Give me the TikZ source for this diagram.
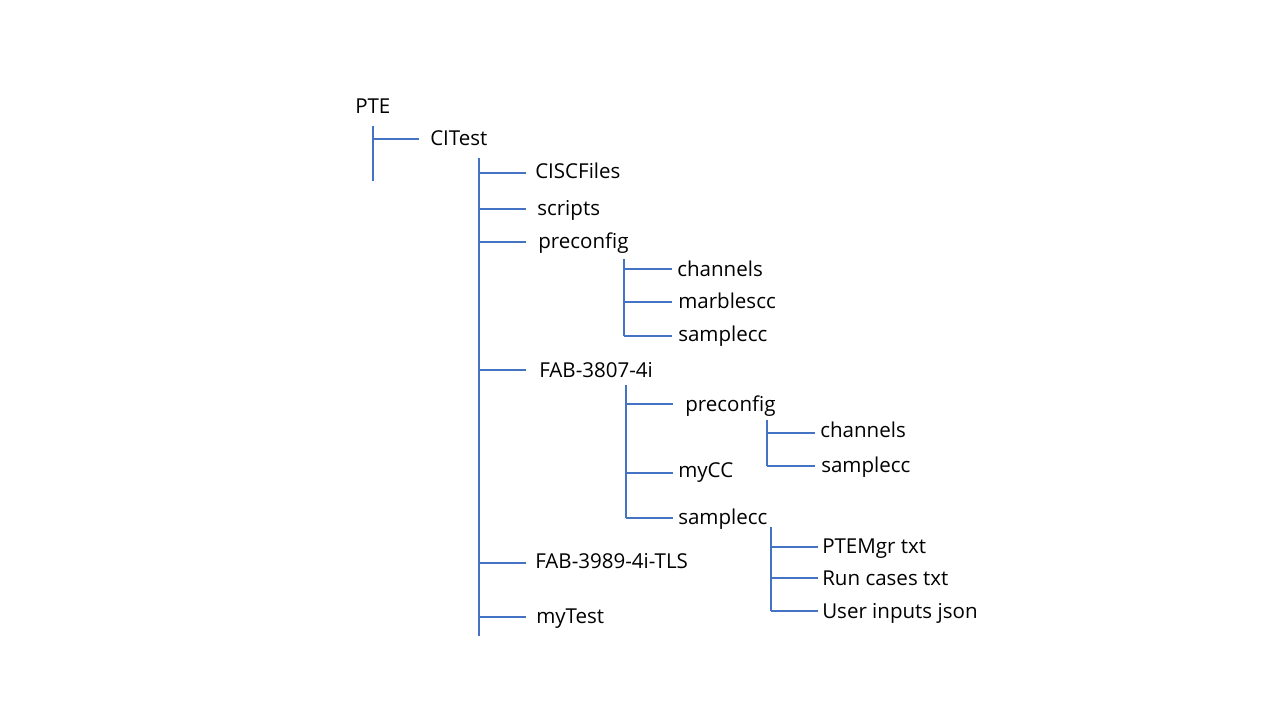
\documentclass[tikz,border=0pt]{standalone}
\usepackage{fontspec}
\setmainfont{Open Sans}
\usepackage{tikz}
\definecolor{treeblue}{HTML}{4472C4}

\begin{document}
\begin{tikzpicture}[
    x=0.75pt, y=-0.75pt,
    entry/.style={anchor=base west, inner sep=0pt, font=\fontsize{15.4}{18}\selectfont},
    branch/.style={draw=treeblue, line width=0.8pt},
]
    \useasboundingbox (0,0) rectangle (1280,720);

    % Root and first level
    \node[entry] (pte) at (355,114) {PTE};
    \node[entry] (citest) at (430,146) {CITest};
    \draw[branch] (373,126) coordinate (ptetop) -- (373,181) coordinate (ptebot);
    \draw[branch] (ptetop |- 0,139) -- (419,139);

    % Children of CITest
    \node[entry] (ciscfiles) at (535,179) {CISCFiles};
    \node[entry] (scripts) at (537,216) {scripts};
    \node[entry] (preconfa) at (538,248) {preconfig};
    \node[entry] (fabone) at (539,377) {FAB-3807-4i};
    \node[entry] (fabtwo) at (535,568) {FAB-3989-4i-TLS};
    \node[entry] (mytest) at (536,623) {myTest};
    \draw[branch] (479,158) coordinate (citop) -- (479,636) coordinate (cibot);
    \foreach \y in {173, 209, 242, 370, 563, 617}
        \draw[branch] (citop |- 0,\y) -- ++(47,0);

    % preconfig (first)
    \node[entry] (chana) at (677,276) {channels};
    \node[entry] (marble) at (678,308) {marblescc};
    \node[entry] (samplea) at (678,341) {samplecc};
    \draw[branch] (624,259) coordinate (pcatop) -- (624,336) coordinate (pcabot);
    \foreach \y in {269, 302, 336}
        \draw[branch] (pcatop |- 0,\y) -- ++(48,0);

    % FAB-3807-4i
    \node[entry] (preconfb) at (685,411) {preconfig};
    \node[entry] (mycc) at (678,477) {myCC};
    \node[entry] (sampleb) at (678,524) {samplecc};
    \draw[branch] (626,385) coordinate (fabtop) -- (626,518) coordinate (fabbot);
    \foreach \y in {404, 473, 518}
        \draw[branch] (fabtop |- 0,\y) -- ++(47,0);

    % preconfig (second)
    \node[entry] (chanb) at (820,437) {channels};
    \node[entry] (samplec) at (821,472) {samplecc};
    \draw[branch] (767,420) coordinate (pcbtop) -- (767,466) coordinate (pcbbot);
    \foreach \y in {433, 466}
        \draw[branch] (pcbtop |- 0,\y) -- ++(48,0);

    % samplecc files
    \node[entry] (ptemgr) at (822,553) {PTEMgr txt};
    \node[entry] (runcases) at (822,585) {Run cases txt};
    \node[entry] (userin) at (822,618) {User inputs json};
    \draw[branch] (771,527) coordinate (smptop) -- (771,611) coordinate (smpbot);
    \foreach \y in {547, 578, 611}
        \draw[branch] (smptop |- 0,\y) -- ++(47,0);
\end{tikzpicture}
\end{document}
